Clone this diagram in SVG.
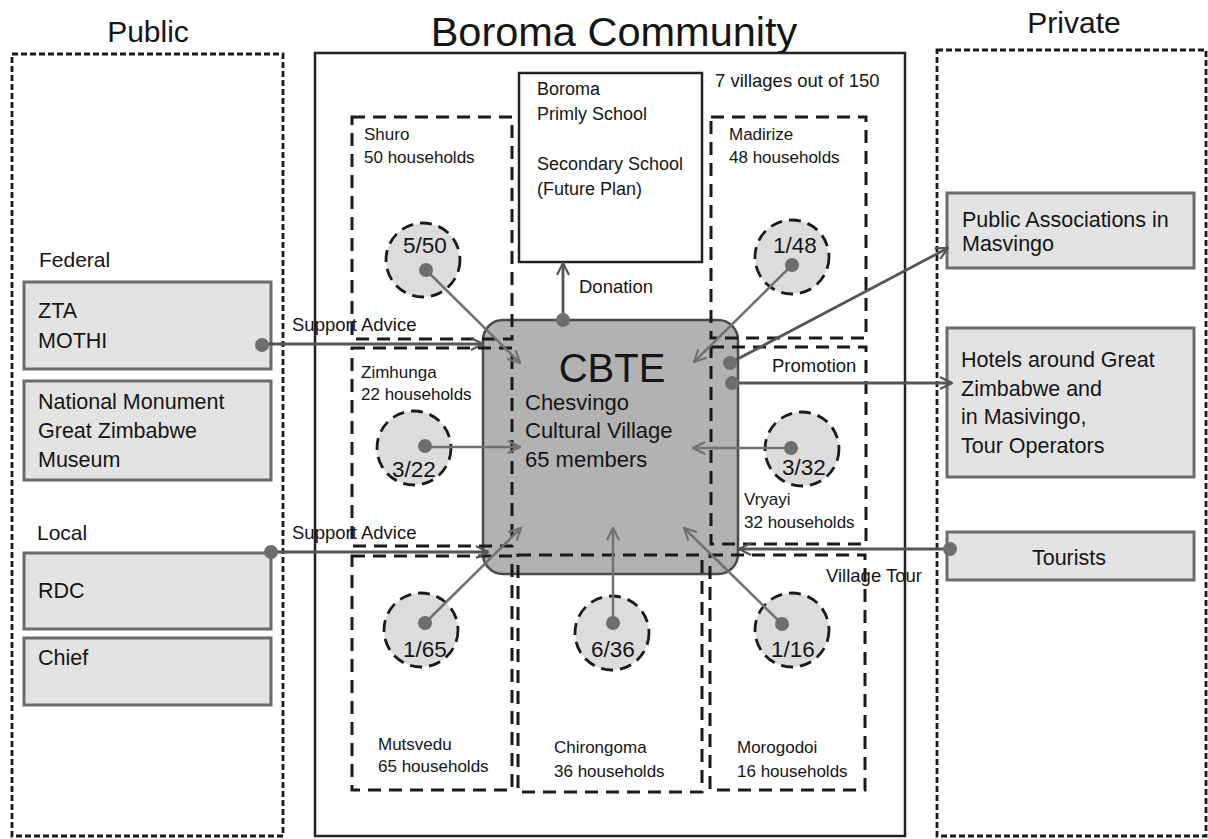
<svg xmlns="http://www.w3.org/2000/svg" width="1208" height="839" viewBox="0 0 1208 839">
  <defs>
    <style>
      text { font-family: "Liberation Sans", Arial, sans-serif; fill: #151515; }
      .title { font-size: 30px; }
      .big { font-size: 41.5px; }
      .grp { font-size: 21px; }
      .box { fill: #e3e3e3; stroke: #6b6b6b; stroke-width: 3; }
      .boxt { font-size: 21.5px; }
      .zone { fill: none; stroke: #1a1a1a; stroke-width: 2.8; stroke-dasharray: 6 3; }
      .village { fill: none; stroke: #1a1a1a; stroke-width: 3; stroke-dasharray: 13 8; }
      .vt { font-size: 17px; }
      .ring { fill: #dcdcdc; stroke: #1a1a1a; stroke-width: 2.8; stroke-dasharray: 12 7; }
      .ratio { font-size: 22.5px; text-anchor: middle; }
      .dot { fill: #6e6e6e; }
      .link { fill: none; stroke: #717171; stroke-width: 2.5; }
      .main { fill: none; stroke: #555555; stroke-width: 2.8; }
      .lbl { font-size: 18.5px; }
    </style>
    <marker id="ah" viewBox="0 0 14 14" refX="13" refY="7" markerWidth="14" markerHeight="14" orient="auto" markerUnits="userSpaceOnUse">
      <path d="M1,1 L13,7 L1,13" fill="none" stroke="#717171" stroke-width="2.2"/>
    </marker>
    <marker id="ahd" viewBox="0 0 14 14" refX="13" refY="7" markerWidth="14" markerHeight="14" orient="auto" markerUnits="userSpaceOnUse">
      <path d="M1,1 L13,7 L1,13" fill="none" stroke="#555555" stroke-width="2.2"/>
    </marker>
  </defs>

  <rect width="1208" height="839" fill="#ffffff"/>

  <!-- Headings -->
  <text class="title" x="148" y="42" text-anchor="middle">Public</text>
  <text class="big" x="614" y="46" text-anchor="middle">Boroma Community</text>
  <text class="title" x="1074" y="33" text-anchor="middle">Private</text>

  <!-- Sector frames -->
  <g id="public-sector">
    <rect class="zone" x="12" y="54" width="271" height="782"/>
    <text class="grp" x="39" y="267">Federal</text>
    <text class="grp" x="37" y="540">Local</text>
  </g>
  <g id="private-sector">
    <rect class="zone" x="937" y="50" width="269" height="786"/>
  </g>
  <g id="community">
    <rect x="315" y="53" width="590" height="783" fill="none" stroke="#222" stroke-width="2.5"/>
    <text class="lbl" x="715" y="87">7 villages out of 150</text>
  </g>

  <!-- Public organisations -->
  <g id="zta-mothi">
    <rect class="box" x="24" y="282" width="247" height="87"/>
    <text class="boxt" x="38" y="318">ZTA</text>
    <text class="boxt" x="38" y="348">MOTHI</text>
  </g>
  <g id="national-monument">
    <rect class="box" x="24" y="381" width="247" height="99"/>
    <text class="boxt" x="38" y="409">National Monument</text>
    <text class="boxt" x="38" y="438">Great Zimbabwe</text>
    <text class="boxt" x="38" y="467">Museum</text>
  </g>
  <g id="rdc">
    <rect class="box" x="24" y="553" width="247" height="76"/>
    <text class="boxt" x="38" y="598">RDC</text>
  </g>
  <g id="chief">
    <rect class="box" x="24" y="638" width="247" height="67"/>
    <text class="boxt" x="38" y="665">Chief</text>
  </g>

  <!-- Private organisations -->
  <g id="public-associations">
    <rect class="box" x="947" y="193" width="247" height="75"/>
    <text class="boxt" x="962" y="227">Public Associations in</text>
    <text class="boxt" x="962" y="251">Masvingo</text>
  </g>
  <g id="hotels">
    <rect class="box" x="947" y="328" width="247" height="149"/>
    <text class="boxt" x="961" y="367">Hotels around Great</text>
    <text class="boxt" x="961" y="396">Zimbabwe and</text>
    <text class="boxt" x="961" y="424">in Masivingo,</text>
    <text class="boxt" x="961" y="453">Tour Operators</text>
  </g>
  <g id="tourists">
    <rect class="box" x="947" y="532" width="247" height="48"/>
    <text class="boxt" x="1069" y="565" text-anchor="middle">Tourists</text>
  </g>

  <!-- School -->
  <g id="school">
    <rect x="519" y="73" width="183" height="189" fill="#ffffff" stroke="#222" stroke-width="2.5"/>
    <text class="lbl" x="537" y="95" style="font-size:18px">Boroma</text>
    <text class="lbl" x="537" y="120" style="font-size:18px">Primly School</text>
    <text class="lbl" x="537" y="170" style="font-size:18px">Secondary School</text>
    <text class="lbl" x="537" y="195" style="font-size:18px">(Future Plan)</text>
  </g>

  <!-- Community based tourism enterprise -->
  <g id="cbte">
    <rect x="483" y="320" width="255" height="254" rx="20" ry="20" fill="#b2b2b2" stroke="#4a4a4a" stroke-width="2.5"/>
    <text x="612" y="382" text-anchor="middle" style="font-size:40px">CBTE</text>
    <text x="525" y="410" style="font-size:22px">Chesvingo</text>
    <text x="525" y="438" style="font-size:22px">Cultural Village</text>
    <text x="525" y="467" style="font-size:22px">65 members</text>
  </g>

  <!-- Villages -->
  <g id="shuro">
    <rect class="village" x="352" y="117" width="160" height="222"/>
    <text class="vt" x="364" y="140">Shuro</text>
    <text class="vt" x="364" y="163">50 households</text>
    <circle class="ring" cx="423" cy="260" r="37"/>
    <text class="ratio" x="425" y="253">5/50</text>
  </g>
  <g id="madirize">
    <rect class="village" x="711" y="117" width="155" height="221"/>
    <text class="vt" x="729" y="140">Madirize</text>
    <text class="vt" x="729" y="163">48 households</text>
    <circle class="ring" cx="792" cy="257" r="37"/>
    <text class="ratio" x="795" y="253">1/48</text>
  </g>
  <g id="zimhunga">
    <rect class="village" x="352" y="348" width="160" height="198"/>
    <text class="vt" x="361" y="378">Zimhunga</text>
    <text class="vt" x="361" y="400">22 households</text>
    <circle class="ring" cx="414" cy="448" r="37"/>
    <text class="ratio" x="414" y="477">3/22</text>
  </g>
  <g id="vryayi">
    <rect class="village" x="711" y="347" width="155" height="197"/>
    <text class="vt" x="744" y="505">Vryayi</text>
    <text class="vt" x="744" y="528">32 households</text>
    <circle class="ring" cx="802" cy="449" r="37"/>
    <text class="ratio" x="804" y="475">3/32</text>
  </g>
  <g id="mutsvedu">
    <rect class="village" x="352" y="556" width="160" height="234"/>
    <text class="vt" x="378" y="750">Mutsvedu</text>
    <text class="vt" x="378" y="772">65 households</text>
    <circle class="ring" cx="421" cy="630" r="37"/>
    <text class="ratio" x="425" y="657">1/65</text>
  </g>
  <g id="chirongoma">
    <rect class="village" x="518" y="555" width="184" height="237"/>
    <text class="vt" x="554" y="753">Chirongoma</text>
    <text class="vt" x="554" y="777">36 households</text>
    <circle class="ring" cx="612" cy="633" r="37"/>
    <text class="ratio" x="613" y="657">6/36</text>
  </g>
  <g id="morogodoi">
    <rect class="village" x="710" y="555" width="155" height="235"/>
    <text class="vt" x="737" y="753">Morogodoi</text>
    <text class="vt" x="737" y="777">16 households</text>
    <circle class="ring" cx="792" cy="630" r="37"/>
    <text class="ratio" x="793" y="657">1/16</text>
  </g>

  <!-- Connectors -->
  <g id="connectors">
    <!-- members from each village into the CBTE -->
    <line class="link" x1="426" y1="270" x2="520" y2="363" marker-end="url(#ah)"/>
    <line class="link" x1="792" y1="265" x2="694" y2="362" marker-end="url(#ah)"/>
    <line class="link" x1="425" y1="447" x2="520" y2="447" marker-end="url(#ah)"/>
    <line class="link" x1="791" y1="448" x2="693" y2="448" marker-end="url(#ah)"/>
    <line class="link" x1="425" y1="623" x2="521" y2="528" marker-end="url(#ah)"/>
    <line class="link" x1="613" y1="623" x2="613" y2="528" marker-end="url(#ah)"/>
    <line class="link" x1="782" y1="624" x2="684" y2="528" marker-end="url(#ah)"/>

    <!-- donation to the school -->
    <line class="main" x1="563" y1="320" x2="563" y2="263" marker-end="url(#ahd)"/>
    <text class="lbl" x="579" y="293">Donation</text>

    <!-- support advice from the public sector -->
    <line class="main" x1="262" y1="344" x2="483" y2="344" marker-end="url(#ahd)"/>
    <text class="lbl" x="292" y="331">Support Advice</text>
    <line class="main" x1="271" y1="552" x2="488" y2="552" marker-end="url(#ahd)"/>
    <text class="lbl" x="292" y="539">Support Advice</text>

    <!-- promotion to the private sector -->
    <line class="main" x1="730" y1="363" x2="948" y2="248" marker-end="url(#ahd)"/>
    <line class="main" x1="732" y1="383" x2="952" y2="383" marker-end="url(#ahd)"/>
    <text class="lbl" x="772" y="372">Promotion</text>

    <!-- village tour for tourists -->
    <line class="main" x1="950" y1="549" x2="739" y2="549" marker-end="url(#ahd)"/>
    <text class="lbl" x="826" y="582">Village Tour</text>

    <!-- anchor dots -->
    <circle class="dot" cx="426" cy="270" r="7"/>
    <circle class="dot" cx="792" cy="265" r="7"/>
    <circle class="dot" cx="425" cy="446" r="7"/>
    <circle class="dot" cx="791" cy="448" r="7"/>
    <circle class="dot" cx="425" cy="623" r="7"/>
    <circle class="dot" cx="613" cy="623" r="7"/>
    <circle class="dot" cx="782" cy="624" r="7"/>
    <circle class="dot" cx="563" cy="320" r="7"/>
    <circle class="dot" cx="262" cy="345" r="7"/>
    <circle class="dot" cx="271" cy="552" r="7"/>
    <circle class="dot" cx="730" cy="363" r="7"/>
    <circle class="dot" cx="732" cy="383" r="7"/>
    <circle class="dot" cx="950" cy="549" r="7"/>
  </g>
</svg>
